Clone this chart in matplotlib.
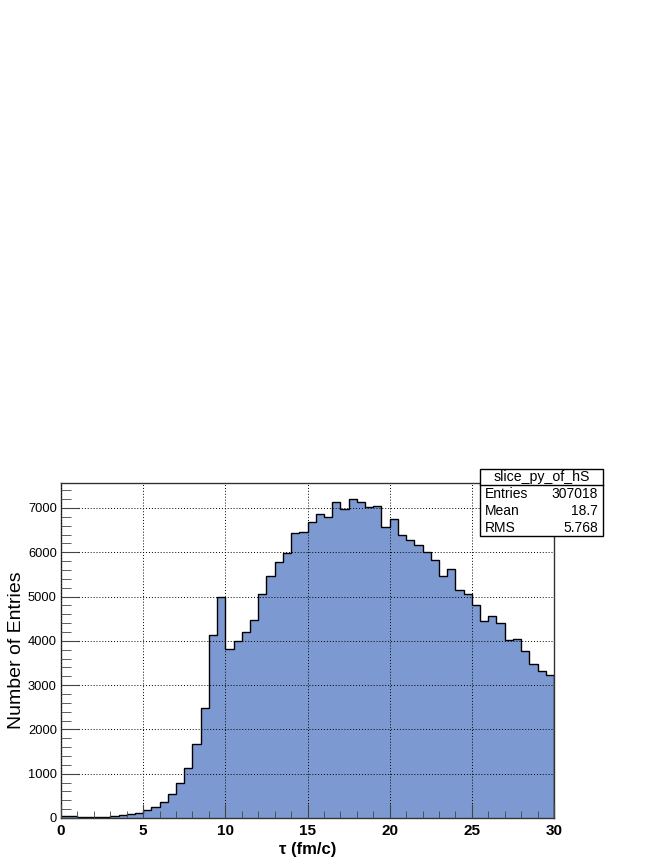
import numpy as np
import matplotlib
matplotlib.use('Agg')
import matplotlib.pyplot as plt
from matplotlib.patches import Rectangle
from matplotlib.ticker import MultipleLocator

plt.rcParams['font.family'] = ['Liberation Sans', 'DejaVu Sans']

# 60 bins of 0.5 fm/c from 0 to 30
edges = np.arange(0, 30.5, 0.5)
counts = [40, 50, 25, 30, 12, 12, 50, 65, 100, 105,
          170, 238, 350, 540, 780, 1122, 1663, 2490, 4132, 5000,
          3822, 3990, 4192, 4480, 5048, 5463, 5780, 5991, 6436, 6466,
          6677, 6858, 6805, 7143, 6977, 7204, 7136, 7023, 7045, 6579,
          6742, 6380, 6286, 6158, 6000, 5835, 5474, 5624, 5158, 5068,
          4805, 4459, 4571, 4406, 4030, 4045, 3767, 3481, 3316, 3218]
stat_names = ['Entries', 'Mean', 'RMS']
stat_values = ['307018', '18.7', '5.768']
hist_name = 'slice_py_of_hS'

fig = plt.figure(figsize=(6.64, 8.6), dpi=100)
ax = fig.add_axes([61/664, 42/860, (554-61)/664, (818-483)/860])

ax.stairs(counts, edges, fill=True, color='#7d99d1', lw=0)
ax.stairs(counts, edges, color='black', lw=1.0)

ax.set_xlim(0, 30)
ax.set_ylim(0, 1.05*max(counts))

ax.xaxis.set_major_locator(MultipleLocator(5))
ax.xaxis.set_minor_locator(MultipleLocator(1))
ax.yaxis.set_major_locator(MultipleLocator(1000))
ax.yaxis.set_minor_locator(MultipleLocator(200))
ax.tick_params(which='both', direction='in', top=False, right=False, color='#444444')
ax.tick_params(axis='y', which='major', length=13, labelsize=9.3, pad=3)
ax.tick_params(axis='y', which='minor', length=7)
ax.tick_params(axis='x', which='major', length=10, labelsize=11, pad=4)
ax.tick_params(axis='x', which='minor', length=5)
for lab in ax.get_xticklabels():
    lab.set_fontweight('bold')

ax.grid(True, which='major', color='black', linestyle=(0, (1, 2)), lw=0.7)
ax.set_axisbelow(False)
for sp in ax.spines.values():
    sp.set_linewidth(1.0)
    sp.set_color('#333333')

ax.set_xlabel('τ (fm/c)', fontsize=12, fontweight='bold', labelpad=3)
ax.set_ylabel('Number of Entries', fontsize=14)
ax.yaxis.set_label_coords(-0.073, 0.5)

# stats box
x0, x1 = 480/664, 603/664
yt, ys, yb = 1-469/860, 1-485/860, 1-536/860
fig.patches.append(Rectangle((x0, yb), x1-x0, yt-yb, transform=fig.transFigure,
                             facecolor='white', edgecolor='black', lw=1.0, zorder=5))
fig.lines.append(plt.Line2D([x0, x1], [ys, ys], transform=fig.transFigure,
                            color='black', lw=1.0, zorder=6))
fig.text((x0+x1)/2, (yt+ys)/2, hist_name, ha='center', va='center', fontsize=10.2, zorder=7)
row_y = [494, 511, 528]
for n, v, ry in zip(stat_names, stat_values, row_y):
    fig.text(x0+5/664, 1-ry/860, n, ha='left', va='center', fontsize=10, zorder=7)
    fig.text(x1-5/664, 1-ry/860, v, ha='right', va='center', fontsize=10, zorder=7)

fig.savefig('out.png', dpi=100)
